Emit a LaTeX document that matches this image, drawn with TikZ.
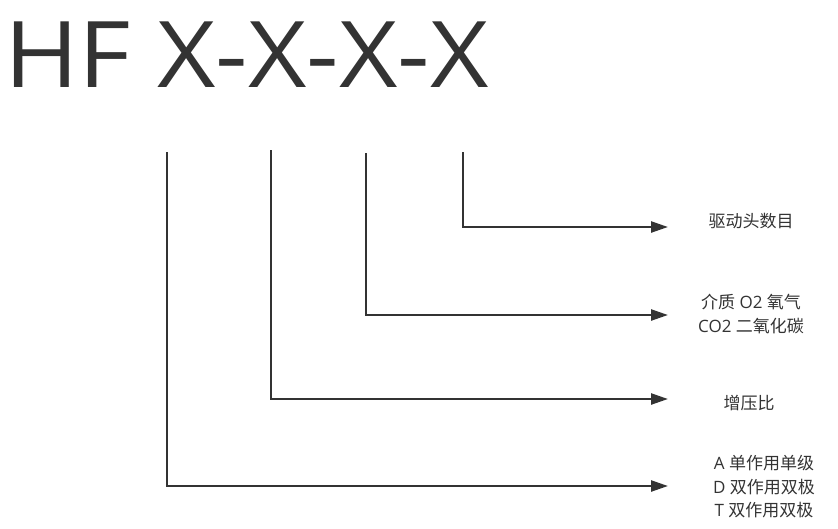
\documentclass[tikz,border=0pt]{standalone}
\usepackage{fontspec}
\setmainfont{Open Sans}
\newfontfamily\cjk{Noto Sans CJK SC}
\newcommand{\zh}[1]{{\cjk #1}}
\usetikzlibrary{arrows.meta}
\definecolor{ink}{HTML}{333333}
\begin{document}
\begin{tikzpicture}[x=1pt,y=-1pt,
  conn/.style={draw=ink,line width=2.4pt,-{Triangle[length=17pt,width=11pt]}},
  lbl/.style={text=ink,font=\fontsize{17}{23.5}\selectfont,align=center,inner sep=0pt}]
\useasboundingbox (0,0) rectangle (838,528);
\node[text=ink,font=\fontsize{92}{92}\selectfont,anchor=base west,inner sep=0pt,xscale=1.1] (title) at (4,87) {HF X-X-X-X};
\coordinate (t1) at (167,152);
\coordinate (t2) at (271,150);
\coordinate (t3) at (366,153);
\coordinate (t4) at (463,152);
\coordinate (e1) at (668,486);
\coordinate (e2) at (668,399);
\coordinate (e3) at (668,315);
\coordinate (e4) at (668,227);
\node[lbl] (l4) at (751,221) {\zh{驱动头数目}};
\node[lbl] (l3) at (751,314) {\zh{介质} O2 \zh{氧气}\\CO2 \zh{二氧化碳}};
\node[lbl] (l2) at (749,403) {\zh{增压比}};
\node[lbl] (l1) at (764,487) {A \zh{单作用单级}\\D \zh{双作用双极}\\T \zh{双作用双极}};
\draw[conn] (t1) |- (e1);
\draw[conn] (t2) |- (e2);
\draw[conn] (t3) |- (e3);
\draw[conn] (t4) |- (e4);
\end{tikzpicture}
\end{document}
